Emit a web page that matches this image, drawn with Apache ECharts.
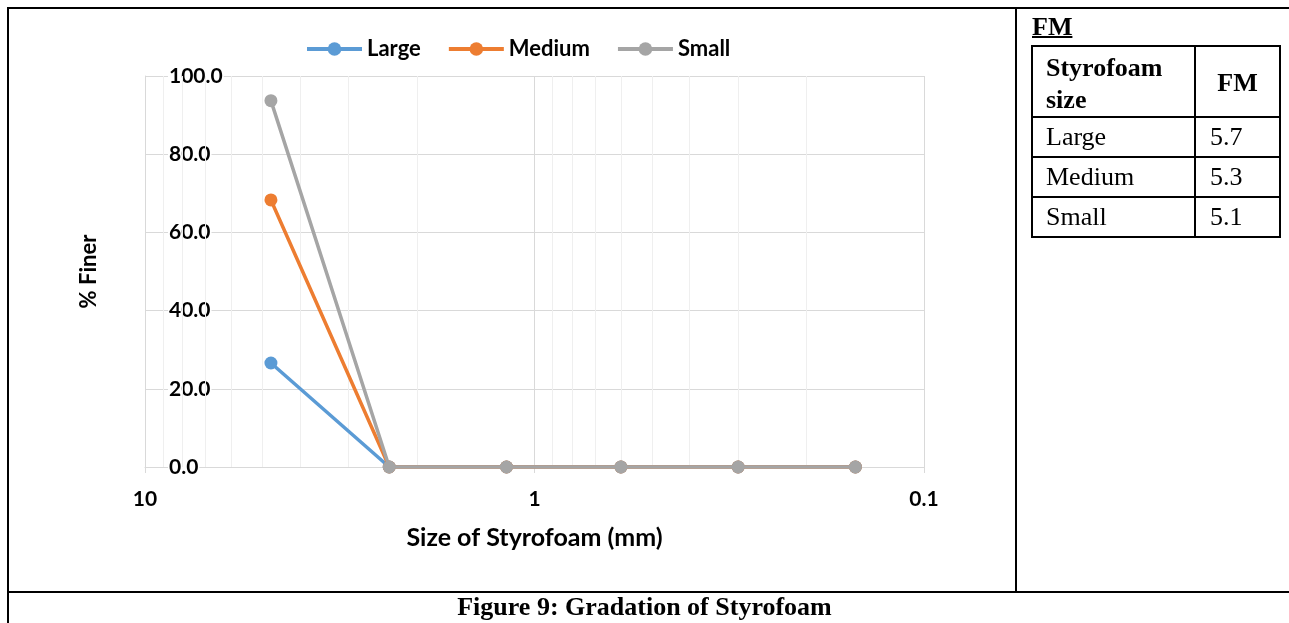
<!DOCTYPE html>
<html><head><meta charset="utf-8">
<script src="https://cdn.jsdelivr.net/npm/echarts@6/dist/echarts.min.js"></script>
<style>
html,body{margin:0;padding:0;background:#fff;}
#wrap{position:relative;width:1289px;height:623px;overflow:hidden;background:#fff;}
#chart{position:absolute;left:0;top:0;width:1289px;height:623px;}
.ln{position:absolute;background:#000;}
.tx{position:absolute;font-family:"Liberation Serif","Times New Roman",serif;font-size:26px;color:#000;white-space:nowrap;}
</style></head>
<body>
<div id="wrap">
<div id="chart"></div>
<div class="ln" style="left:7px;top:7px;width:1282px;height:2px"></div>
<div class="ln" style="left:7px;top:7px;width:2px;height:616px"></div>
<div class="ln" style="left:1015px;top:7px;width:2px;height:585px"></div>
<div class="ln" style="left:7px;top:591px;width:1282px;height:2px"></div>
<div id="fmbox"></div>
<div class="tx" style="left:0;top:591px;width:1289px;text-align:center;line-height:32px;font-weight:bold;font-size:26px">Figure 9: Gradation of Styrofoam</div>
</div>
<script>
// ---- data ----
const sieveSizes = [4.75, 2.36, 1.18, 0.6, 0.3, 0.15];
const seriesNames = ['Large', 'Medium', 'Small'];
const largeFiner = [26.6, 0, 0, 0, 0, 0];
const mediumFiner = [68.3, 0, 0, 0, 0, 0];
const smallFiner = [93.7, 0, 0, 0, 0, 0];
const xTickValues = [10, 1, 0.1];
const xTickLabels = ['10', '1', '0.1'];
const yTickValues = [0, 20, 40, 60, 80, 100];
const yTickLabels = ['0.0', '20.0', '40.0', '60.0', '80.0', '100.0'];
const minorGridValues = [9, 8, 7, 6, 5, 4, 3, 2, 0.9, 0.8, 0.7, 0.6, 0.5, 0.4, 0.3, 0.2];
const fmHeader = ['Styrofoam size', 'FM'];
const fmSizes = ['Large', 'Medium', 'Small'];
const fmValues = ['5.7', '5.3', '5.1'];
const colors = ['#5B9BD5', '#ED7D31', '#A5A5A5'];

// ---- FM table ----
(function () {
  const box = document.getElementById('fmbox');
  let h = '';
  const L = 1032, R = 1280, C = 1195;
  const rows = [46, 117, 157, 197, 237];
  h += '<div class="tx" style="left:1032px;top:12px;line-height:30px;font-weight:bold;text-decoration:underline;text-decoration-thickness:2px">FM</div>';
  rows.forEach(y => { h += `<div class="ln" style="left:${L-1}px;top:${y-1}px;width:${R-L+2}px;height:2px"></div>`; });
  [L, C, R].forEach(x => { h += `<div class="ln" style="left:${x-1}px;top:${rows[0]-1}px;width:2px;height:${rows[rows.length-1]-rows[0]+2}px"></div>`; });
  h += `<div class="tx" style="left:1046px;top:52px;line-height:32px;font-weight:bold">Styrofoam<br>size</div>`;
  h += `<div class="tx" style="left:${C}px;width:${R-C}px;text-align:center;top:67px;line-height:32px;font-weight:bold">${fmHeader[1]}</div>`;
  fmSizes.forEach((s, i) => {
    const cy = (rows[i+1] + rows[i+2]) / 2;
    h += `<div class="tx" style="left:1046px;top:${cy-16}px;line-height:32px">${s}</div>`;
    h += `<div class="tx" style="left:1210px;top:${cy-16}px;line-height:32px">${fmValues[i]}</div>`;
  });
  box.innerHTML = h;
})();

// ---- chart ----
const chart = echarts.init(document.getElementById('chart'), null, { renderer: 'canvas' });
const FONT = 'Lato, "Open Sans", sans-serif';
const pairs = arr => sieveSizes.map((s, i) => [s, arr[i]]);
const allSeries = [largeFiner, mediumFiner, smallFiner];
function xLabel(v) {
  for (let i = 0; i < xTickValues.length; i++) {
    if (Math.abs(Math.log10(xTickValues[i]) - Math.log10(v)) < 1e-6) return xTickLabels[i];
  }
  return '';
}
function yLabel(v) {
  const i = yTickValues.indexOf(Math.round(v));
  return i >= 0 ? yTickLabels[i] : '';
}
const option = {
  animation: false,
  color: colors,
  grid: { left: 145, right: 365, top: 76, bottom: 156 },
  legend: {
    data: seriesNames,
    left: 305, top: 38, padding: 0,
    itemWidth: 55, itemHeight: 17, itemGap: 26,
    lineStyle: { width: 4 },
    textStyle: { fontFamily: FONT, fontWeight: 'bold', fontSize: 22, color: '#000' }
  },
  xAxis: {
    type: 'log', logBase: 10, min: 0.1, max: 10, inverse: true,
    name: 'Size of Styrofoam (mm)', nameLocation: 'middle', nameGap: 58,
    nameTextStyle: { fontFamily: FONT, fontWeight: 'bold', fontSize: 25, color: '#000' },
    axisLine: { show: true, lineStyle: { color: '#d9d9d9', width: 1 } },
    axisTick: { show: true, length: 6, lineStyle: { color: '#d9d9d9' } },
    splitLine: { show: true, lineStyle: { color: '#d9d9d9', width: 1 } },
    axisLabel: { formatter: xLabel, margin: 22, fontFamily: FONT, fontWeight: 'bold', fontSize: 21, color: '#000' }
  },
  yAxis: {
    type: 'value', min: 0, max: 100, interval: 20,
    name: '% Finer', nameLocation: 'middle', nameGap: 45, nameRotate: 90,
    nameTextStyle: { fontFamily: FONT, fontWeight: 'bold', fontSize: 22, color: '#000' },
    axisLine: { show: true, lineStyle: { color: '#d9d9d9', width: 1 } },
    axisTick: { show: false },
    splitLine: { show: true, lineStyle: { color: '#d9d9d9', width: 1 } },
    axisLabel: { inside: true, margin: 23, formatter: yLabel, fontFamily: FONT, fontWeight: 'bold', fontSize: 21, color: '#000', backgroundColor: '#fff', padding: [0, 1] }
  },
  series: [
    {
      name: 'minor', type: 'line', data: [], silent: true, z: 1,
      markLine: {
        silent: true, symbol: ['none', 'none'], animation: false, z: 1,
        label: { show: false },
        lineStyle: { color: '#efefef', width: 1, type: 'solid' },
        emphasis: { disabled: true },
        data: minorGridValues.map(v => ({ xAxis: v }))
      }
    }
  ].concat(seriesNames.map((n, i) => ({
    name: n, type: 'line', data: pairs(allSeries[i]), z: 3 + i,
    symbol: 'circle', symbolSize: 13, showSymbol: true,
    lineStyle: { width: 3.5, color: colors[i] },
    itemStyle: { color: colors[i] }
  })))
};
chart.setOption(option);
</script>
</body></html>
